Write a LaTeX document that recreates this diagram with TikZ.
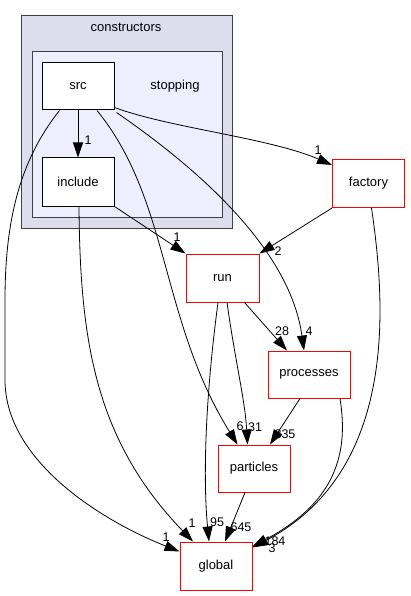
\documentclass[tikz,border=0pt]{standalone}
\usepackage{fontspec}
\setmainfont{Liberation Sans}
\usetikzlibrary{arrows.meta}
\definecolor{edgered}{RGB}{255,0,0}
\begin{document}
\begin{tikzpicture}[x=1pt,y=-1pt,
  every node/.style={font=\fontsize{13}{15}\selectfont, inner sep=0pt},
  dirbox/.style={draw=black, fill=white, line width=1pt, minimum width=72pt, minimum height=47pt},
  extbox/.style={draw=edgered, fill=white, line width=1pt, minimum width=72pt, minimum height=47pt},
  edge/.style={draw=black, line width=0.8pt, -{Triangle[length=15pt,width=10pt]}},
  lbl/.style={font=\fontsize{12.5}{14}\selectfont}
]
\useasboundingbox (0,0) rectangle (411,596);
% clusters
\node[draw=black!75, fill={rgb,255:red,221;green,221;blue,238}, line width=1pt, minimum width=211pt, minimum height=212pt] (constructors) at (126.5,122) {};
\node (constructorslbl) at (126,27) {constructors};
\node[draw=black!75, fill={rgb,255:red,238;green,238;blue,255}, line width=1pt, minimum width=190pt, minimum height=165pt] (stopping) at (127,134.5) {};
\node (stoppinglbl) at (175,86) {stopping};
% nodes
\node[dirbox] (src) at (78,86.5) {src};
\node[dirbox, minimum height=48pt] (include) at (78,182) {include};
\node[extbox, minimum height=48pt] (factory) at (368.5,183.5) {factory};
\node[extbox, minimum width=73pt, minimum height=48pt] (run) at (222.5,278) {run};
\node[extbox, minimum width=82pt] (processes) at (309,374.5) {processes};
\node[extbox] (particles) at (254,468.5) {particles};
\node[extbox, minimum height=48pt] (global) at (216,566) {global};
% edges
\draw[edge] (src.south) -- (include.north);
\node[lbl] (l1) at (88,140) {1};
\draw[edge] ([yshift=3pt]src.south east) .. controls (170,128) and (270,138) .. ([yshift=-6pt]factory.north west);
\node[lbl] (l2) at (318,150) {1};
\draw[edge] ([xshift=18pt]src.south west) .. controls (20,160) and (5,220) .. (5,300) -- (5,380) .. controls (5,460) and (100,520) .. ([yshift=-10pt]global.north west);
\node[lbl] (l3) at (166,537) {1};
\draw[edge] ([xshift=19pt]src.south) .. controls (170,200) and (160,320) .. ([xshift=20pt]particles.north west);
\node[lbl] (l4) at (240,426) {6};
\draw[edge] ([xshift=2pt,yshift=-2pt]src.south east) .. controls (200,170) and (290,250) .. ([xshift=-5pt]processes.north);
\node[lbl] (l5) at (309,331) {4};
\draw[edge] (include.south east) -- (run.north west);
\node[lbl] (l6) at (177,237) {1};
\draw[edge] ([xshift=1pt]include.south) .. controls (80,340) and (95,440) .. ([xshift=-23pt]global.north);
\node[lbl] (l7) at (192,523) {1};
\draw[edge] (factory.south west) -- (run.north east);
\node[lbl] (l8) at (278,251) {2};
\draw[edge] ([xshift=3pt]factory.south) .. controls (385,300) and (400,470) .. ([yshift=-6pt]global.north east);
\node[lbl] (l9) at (272,548) {3};
\draw[edge] ([xshift=22pt]run.south) -- ([xshift=-22pt]processes.north);
\node[lbl] (l10) at (282,331) {28};
\draw[edge] ([xshift=4.5pt]run.south) .. controls (235,360) and (245,400) .. ([xshift=30pt]particles.north west);
\node[lbl] (l11) at (255,427) {31};
\draw[edge] ([xshift=-4.5pt]run.south) .. controls (205,400) and (203,480) .. ([xshift=-7pt]global.north);
\node[lbl] (l12) at (217,522) {95};
\draw[edge] ([xshift=-9pt]processes.south) -- ([xshift=16pt]particles.north);
\node[lbl] (l13) at (285,434) {835};
\draw[edge] ([xshift=31pt]processes.south) .. controls (350,460) and (330,505) .. ([yshift=-5pt]global.north east);
\node[lbl] (l14) at (275,541) {184};
\draw[edge] ([xshift=-9pt]particles.south) -- ([xshift=9pt]global.north);
\node[lbl] (l15) at (241,527) {645};
\end{tikzpicture}
\end{document}
